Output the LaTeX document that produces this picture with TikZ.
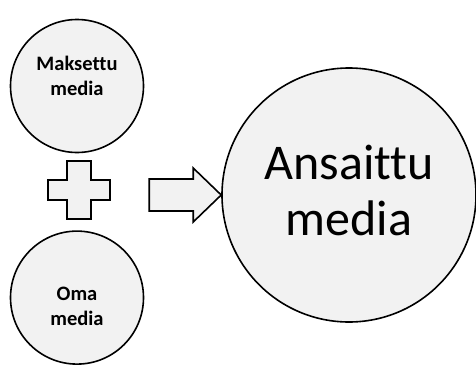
\documentclass[tikz,border=0pt]{standalone}
\usepackage{fontspec}
\setmainfont{Carlito}[Ligatures=NoCommon]
\usetikzlibrary{positioning}

\begin{document}
\begin{tikzpicture}[x=1pt,y=-1pt,
    mediacircle/.style={circle, draw=black, fill=gray!10, line width=1.6pt, inner sep=0pt},
    smallcircle/.style={mediacircle, minimum size=133pt},
    bigcircle/.style={mediacircle, minimum size=254pt},
    smalltext/.style={align=center, font=\fontsize{20.5}{25}\selectfont\bfseries},
    bigtext/.style={align=center, font=\fontsize{50}{56}\selectfont},
    blockshape/.style={draw=black, fill=gray!10, line width=1.6pt, line join=miter},
    ]
\useasboundingbox (0,0) rectangle (476,372);

%Nodes
\node[smallcircle]      (paid)     at (77,86)               {};
\node[smallcircle]      (owned)    [below=77pt of paid]     {};
\node[bigcircle]        (earned)   at (349,195)             {};
\node[smalltext]        (paidtxt)  at ([yshift=10pt]paid.center)    {Maksettu\\media};
\node[smalltext]        (ownedtxt) at ([yshift=-9pt]owned.center)   {Oma\\media};
\node[bigtext]          (earnedtxt) at ([yshift=5pt]earned.center)  {Ansaittu\\media};
\coordinate (plus) at (79,190);
\coordinate (tip)  at (earned.west);

%Shapes
\draw[blockshape] ([shift={(-12,-29)}]plus) -- ([shift={(12,-29)}]plus)
    -- ([shift={(12,-10)}]plus) -- ([shift={(31,-10)}]plus)
    -- ([shift={(31,10)}]plus) -- ([shift={(12,10)}]plus)
    -- ([shift={(12,29)}]plus) -- ([shift={(-12,29)}]plus)
    -- ([shift={(-12,10)}]plus) -- ([shift={(-31,10)}]plus)
    -- ([shift={(-31,-10)}]plus) -- ([shift={(-12,-10)}]plus) -- cycle;
\draw[blockshape] ([shift={(-72,-16)}]tip) -- ([shift={(-28,-16)}]tip)
    -- ([shift={(-28,-27)}]tip) -- (tip)
    -- ([shift={(-28,27)}]tip) -- ([shift={(-28,16)}]tip)
    -- ([shift={(-72,16)}]tip) -- cycle;
\end{tikzpicture}
\end{document}
